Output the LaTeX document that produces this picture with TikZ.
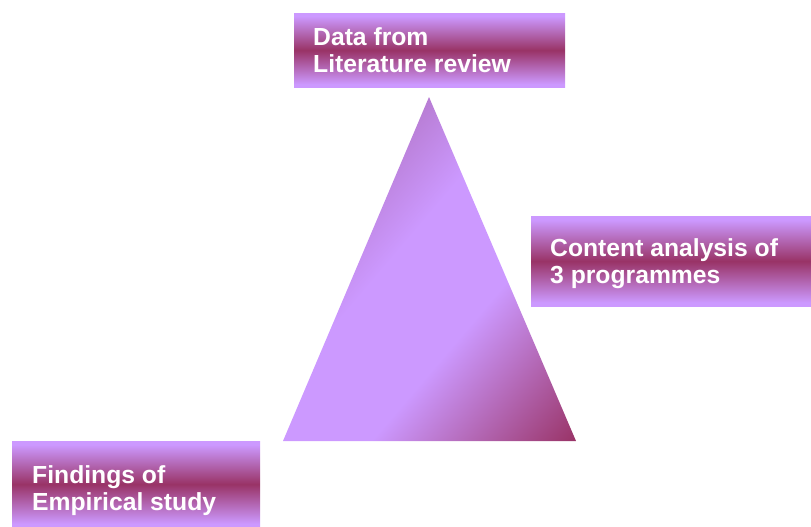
\documentclass[tikz,border=0pt]{standalone}
\usepackage{fontspec}
\setmainfont{Liberation Sans}
\usepackage{tikz}

\definecolor{boxlight}{RGB}{204,153,255}
\definecolor{boxdark}{RGB}{153,51,102}
\definecolor{tritop}{RGB}{184,125,212}

\pgfdeclareverticalshading{band}{100bp}{color(0bp)=(boxlight); color(27bp)=(boxlight); color(50bp)=(boxdark); color(73bp)=(boxlight); color(100bp)=(boxlight)}
\pgfdeclarehorizontalshading{pyramid}{100bp}{color(0bp)=(tritop); color(37.5bp)=(tritop); color(46bp)=(boxlight); color(57.5bp)=(boxlight); color(75bp)=(boxdark); color(100bp)=(boxdark)}

\begin{document}
\begin{tikzpicture}[x=1pt,y=-1pt,
    labelbox/.style={shade, shading=band, anchor=north west, inner sep=0pt},
    labeltext/.style={text=white, font=\fontsize{24.7}{27}\selectfont\bfseries, align=left, anchor=base west, inner sep=0pt}]

        \useasboundingbox (0,0) rectangle (811,527);

        \begin{scope}
        \clip (429,97) -- (283,441) -- (576,441) -- cycle;
        \begin{scope}[transform canvas={shift={(283,97)}, rotate=-40.4}]
        \shade[shading=pyramid] (0,-300) rectangle (446,300);
        \end{scope}
        \end{scope}

        \node[labelbox, minimum width=271, minimum height=74] (litbox) at (294,13) {};
        \node[labeltext] (littext) at (313,73) {Data from\\Literature review};

        \node[labelbox, minimum width=280, minimum height=90] (contbox) at (531,216) {};
        \node[labeltext] (conttext) at (550,283) {Content analysis of\\3 programmes};

        \node[labelbox, minimum width=248, minimum height=86] (empbox) at (12,441) {};
        \node[labeltext] (emptext) at (32,510) {Findings of\\Empirical study};

\end{tikzpicture}
\end{document}
